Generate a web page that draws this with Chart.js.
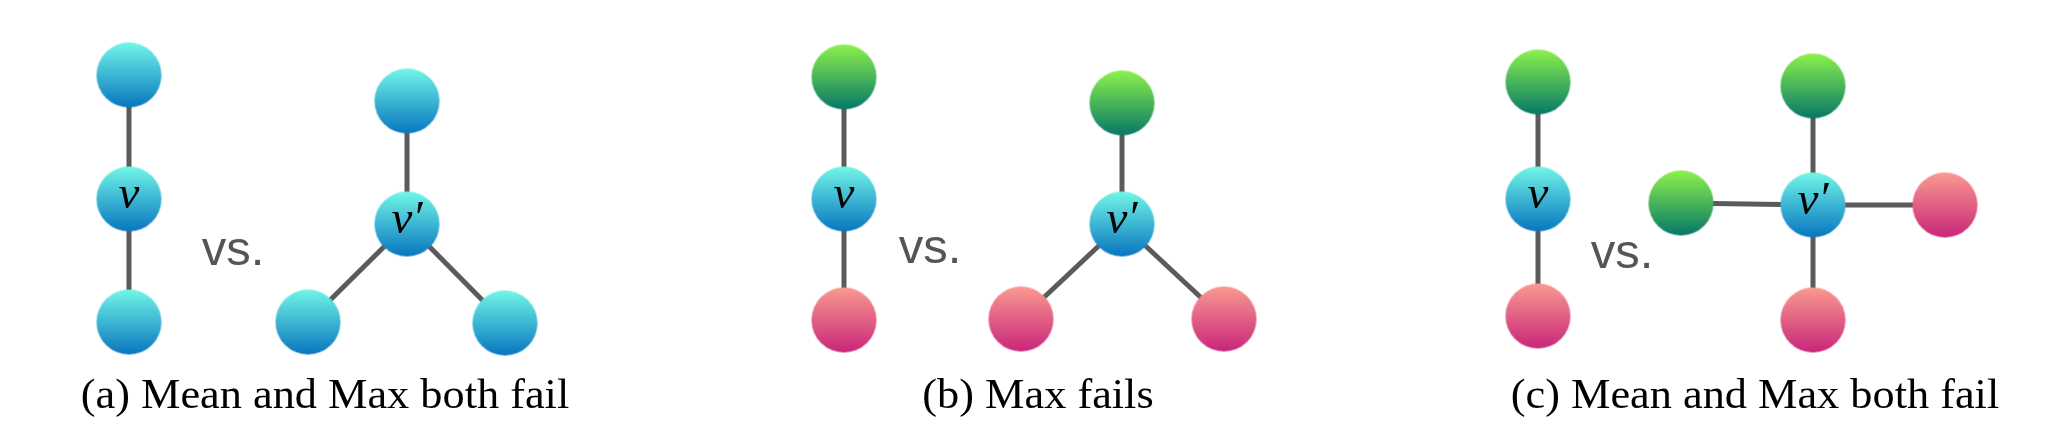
<!DOCTYPE html>
<html>
<head>
<meta charset="utf-8">
<script src="https://cdn.jsdelivr.net/npm/chart.js@4.4.0/dist/chart.umd.min.js"></script>
<style>
    html, body { margin: 0; padding: 0; background: #ffffff; }
    #wrap { width: 2052px; height: 448px; }
</style>
</head>
<body>
<div id="wrap"><canvas id="graphs" width="2052" height="448"></canvas></div>
<script>
// Nós dos três grafos (coordenadas no plano da figura)
const nodeX = [129, 129, 129, 407, 407, 308, 505,
               844, 844, 844, 1122, 1122, 1021, 1224,
               1538, 1538, 1538, 1813, 1813, 1813, 1681, 1945];
const nodeY = [75, 199, 322, 101, 224, 322, 323,
               77, 199, 320, 103, 224, 319, 319,
               82, 199, 316, 205, 86, 320, 203, 205];
// c = ciano, g = verde, p = rosa
const nodeKind = ['c', 'c', 'c', 'c', 'c', 'c', 'c',
                  'g', 'c', 'p', 'g', 'c', 'p', 'p',
                  'g', 'c', 'p', 'c', 'g', 'p', 'g', 'p'];
const nodeLabel = ['', 'v', '', '', 'v\u2032', '', '',
                   '', 'v', '', '', 'v\u2032', '', '',
                   '', 'v', '', 'v\u2032', '', '', '', ''];

// Arestas
const edgeFrom = [0, 1, 3, 4, 4, 7, 8, 10, 11, 11, 14, 15, 17, 17, 17, 17];
const edgeTo   = [1, 2, 4, 5, 6, 8, 9, 11, 12, 13, 15, 16, 18, 19, 20, 21];

// Textos
const captions = ['(a) Mean and Max both fail', '(b) Max fails', '(c) Mean and Max both fail'];
const captionX = [325, 1038, 1755];
const vsX = [233, 930, 1622];
const vsY = [265, 263, 268];

const NODE_R = 32.5;
const gradients = {
    c: ['#72f6e7', '#0876c0'],
    g: ['#8cf24c', '#067868'],
    p: ['#fa9a90', '#c9267a']
};

function makeSprite(kind) {
    const cv = document.createElement('canvas');
    const size = Math.ceil(NODE_R * 2) + 2;
    cv.width = size;
    cv.height = size;
    const g = cv.getContext('2d');
    const grad = g.createLinearGradient(0, size / 2 - NODE_R, 0, size / 2 + NODE_R);
    grad.addColorStop(0, gradients[kind][0]);
    grad.addColorStop(1, gradients[kind][1]);
    g.fillStyle = grad;
    g.beginPath();
    g.arc(size / 2, size / 2, NODE_R, 0, Math.PI * 2);
    g.fill();
    return cv;
}

const sprites = { c: makeSprite('c'), g: makeSprite('g'), p: makeSprite('p') };

const edgeDatasets = edgeFrom.map((from, i) => ({
    type: 'line',
    data: [
        { x: nodeX[from], y: nodeY[from] },
        { x: nodeX[edgeTo[i]], y: nodeY[edgeTo[i]] }
    ],
    borderColor: '#5b5b5b',
    borderWidth: 5,
    pointRadius: 0,
    fill: false,
    order: 2
}));

const nodeDataset = {
    type: 'scatter',
    data: nodeX.map((x, i) => ({ x: x, y: nodeY[i] })),
    pointStyle: (ctx) => sprites[nodeKind[ctx.dataIndex]],
    pointRadius: NODE_R,
    order: 1
};

const textPlugin = {
    id: 'graphTexts',
    afterDatasetsDraw(chart) {
        const ctx = chart.ctx;
        const xs = chart.scales.x;
        const ys = chart.scales.y;
        ctx.save();

        // rótulos dos nós
        ctx.fillStyle = '#000000';
        ctx.font = 'italic 47px "Liberation Serif"';
        ctx.textAlign = 'center';
        ctx.textBaseline = 'middle';
        nodeLabel.forEach((label, i) => {
            if (!label) return;
            ctx.fillText(label, xs.getPixelForValue(nodeX[i]), ys.getPixelForValue(nodeY[i]) - 3);
        });

        // "vs."
        ctx.fillStyle = '#555555';
        ctx.font = '49px "Liberation Sans"';
        ctx.textBaseline = 'alphabetic';
        vsX.forEach((x, i) => {
            ctx.fillText('vs.', xs.getPixelForValue(x), ys.getPixelForValue(vsY[i]));
        });

        // legendas (ligeiramente esticadas na horizontal, como no original)
        ctx.fillStyle = '#000000';
        ctx.font = '42px "Liberation Serif"';
        captions.forEach((text, i) => {
            ctx.save();
            ctx.translate(xs.getPixelForValue(captionX[i]), ys.getPixelForValue(408));
            ctx.scale(1.055, 1);
            ctx.fillText(text, 0, 0);
            ctx.restore();
        });
        ctx.restore();
    }
};

new Chart(document.getElementById('graphs').getContext('2d'), {
    data: { datasets: [nodeDataset].concat(edgeDatasets) },
    options: {
        responsive: false,
        devicePixelRatio: 1,
        animation: false,
        events: [],
        layout: { padding: 0, autoPadding: false },
        plugins: {
            legend: { display: false },
            tooltip: { enabled: false }
        },
        scales: {
            x: { type: 'linear', min: 0, max: 2052, display: false },
            y: { type: 'linear', min: 0, max: 448, reverse: true, display: false }
        }
    },
    plugins: [textPlugin]
});
</script>
</body>
</html>
